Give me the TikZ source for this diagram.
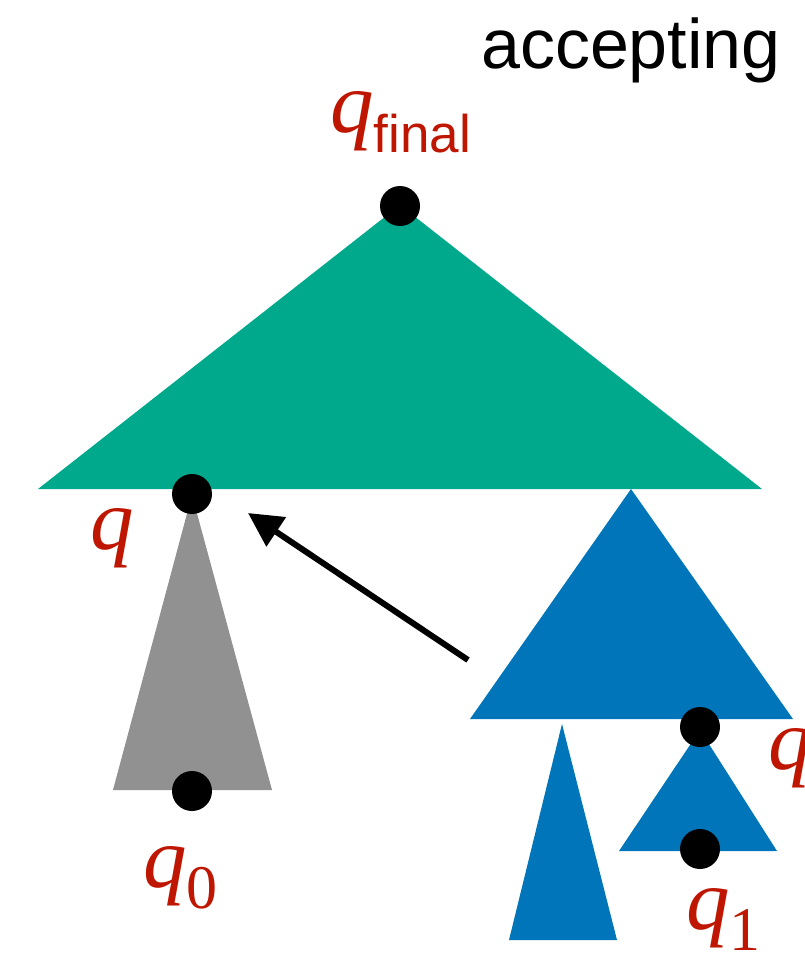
\documentclass[tikz,border=0pt]{standalone}
\usepackage{fontspec}
\setmainfont{Liberation Serif}
\newfontfamily\labsans{Liberation Sans}
\usetikzlibrary{arrows.meta}
\definecolor{tgreen}{RGB}{0,169,139}
\definecolor{tgray}{RGB}{145,145,145}
\definecolor{tblue}{RGB}{0,117,186}
\definecolor{tred}{RGB}{190,22,0}
\newcommand{\qsub}[1]{\textit{q}\raisebox{-21pt}{\fontsize{62}{62}\selectfont #1}}
\begin{document}
\begin{tikzpicture}[x=1pt,y=-1pt,
  dot/.style={circle,fill=black,inner sep=0pt,minimum size=40pt},
  lab/.style={text=tred,inner sep=0pt,font=\fontsize{87}{87}\selectfont},
  arr/.style={line width=6pt,-{Triangle[length=34pt,width=34pt]}}]
\useasboundingbox (0,0) rectangle (805,954);
% triangles
\fill[tgreen] (400,205) -- (762,489) -- (38,489) -- cycle;
\fill[tgray] (192,495) -- (272,790) -- (113,790) -- cycle;
\fill[tblue] (631,489) -- (793,719) -- (470,719) -- cycle;
\fill[tblue] (562,724) -- (617,940) -- (509,940) -- cycle;
\fill[tblue] (700,730) -- (777,851) -- (619,851) -- cycle;
% dots
\node[dot] (qf) at (400,206) {};
\node[dot] (q) at (192,494) {};
\node[dot] (q0) at (192,791) {};
\node[dot] (q2) at (700,727) {};
\node[dot] (q1) at (700,849) {};
% arrow
\coordinate (as) at (468,660);
\coordinate (ae) at (248,513);
\draw[arr] (as) -- (ae);
% labels
\node[lab,anchor=base west] (lqf) at (330,132) {\textit{q}\raisebox{-20pt}{\fontsize{53}{53}\selectfont\labsans final}};
\node[lab,anchor=base west] (lq) at (90,549) {\textit{q}};
\node[lab,anchor=base west] (lq0) at (143,887) {\qsub{0}};
\node[lab,anchor=base west] (lq1) at (686,929) {\qsub{1}};
\node[lab,anchor=base west] (lq2) at (768,769) {\textit{q}};
\node[inner sep=0pt,anchor=base east,font=\labsans\fontsize{70}{70}\selectfont] (acc) at (781,68) {accepting};
\end{tikzpicture}
\end{document}
